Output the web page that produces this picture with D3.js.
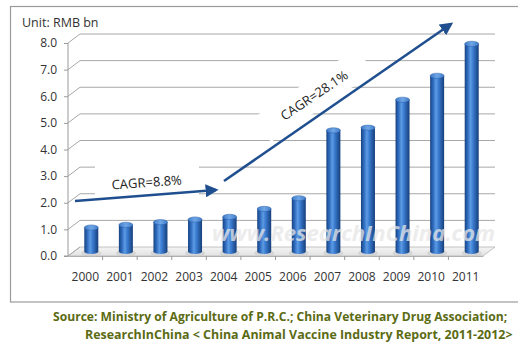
<!DOCTYPE html>
<html>
<head>
<meta charset="utf-8">
<script src="https://cdn.jsdelivr.net/npm/d3@7"></script>
<style>
  html, body { margin: 0; padding: 0; background: #fff; }
  svg { display: block; }
</style>
</head>
<body>
<svg id="chart" width="518" height="343"></svg>
<script>
// Animal vaccine market size in China, RMB bn
const years = ["2000","2001","2002","2003","2004","2005","2006","2007","2008","2009","2010","2011"];
const values = [0.9, 1.0, 1.1, 1.2, 1.3, 1.6, 2.0, 4.55, 4.65, 5.7, 6.6, 7.8];
const yTicks = [0, 1, 2, 3, 4, 5, 6, 7, 8];
const unitLabel = "Unit: RMB bn";
const growthLabels = ["CAGR=8.8%", "CAGR=28.1%"];
const sourceLines = [
  "Source: Ministry of Agriculture of P.R.C.;  China Veterinary Drug Association;",
  "ResearchInChina < China Animal Vaccine Industry Report, 2011-2012>"
];
const watermark = "www.ResearchInChina.com";

const svg = d3.select("#chart");
const font = "'Open Sans', 'DejaVu Sans', sans-serif";

// 3D depth offset of the back wall relative to the front plane
const DX = 12, DY = -9;

const x = d3.scaleBand().domain(years).range([68, 483]);
const y = d3.scaleLinear().domain([0, 8]).range([256, 43]);

const defs = svg.append("defs");
const barGrad = defs.append("linearGradient").attr("id", "barGrad")
  .attr("x1", "0%").attr("x2", "100%").attr("y1", "0%").attr("y2", "0%");
[["0%", "#17427f"], ["22%", "#2f6cc0"], ["42%", "#5d9be3"], ["60%", "#3a7bd0"], ["100%", "#163f7a"]]
  .forEach(([o, c]) => barGrad.append("stop").attr("offset", o).attr("stop-color", c));
const topGrad = defs.append("linearGradient").attr("id", "topGrad")
  .attr("x1", "0%").attr("x2", "100%");
[["0%", "#3f7cc9"], ["50%", "#6fa6e6"], ["100%", "#3f7cc9"]]
  .forEach(([o, c]) => topGrad.append("stop").attr("offset", o).attr("stop-color", c));
const floorGrad = defs.append("linearGradient").attr("id", "floorGrad")
  .attr("x1", "0%").attr("x2", "0%").attr("y1", "0%").attr("y2", "100%");
[["0%", "#f4f4f4"], ["100%", "#e2e2e2"]]
  .forEach(([o, c]) => floorGrad.append("stop").attr("offset", o).attr("stop-color", c));
defs.append("marker").attr("id", "head")
  .attr("viewBox", "0 0 10 10").attr("refX", 8).attr("refY", 5)
  .attr("markerWidth", 5).attr("markerHeight", 5).attr("orient", "auto")
  .attr("markerUnits", "strokeWidth")
  .append("path").attr("d", "M0,0 L10,5 L0,10 Z").attr("fill", "#1f4f8f");

// outer frame
svg.append("rect").attr("x", 10.5).attr("y", 6.5).attr("width", 520).attr("height", 295.5)
  .attr("fill", "#fff").attr("stroke", "#9c9c9c").attr("stroke-width", 1.2);

svg.append("text").attr("x", 22).attr("y", 27).text(unitLabel)
  .attr("font-family", font).attr("font-size", 12.5).attr("fill", "#333");

const x0 = x.range()[0], x1 = x.range()[1];

// floor
svg.append("path")
  .attr("d", `M${x0},${y(0)} L${x1},${y(0)} L${x1 + DX},${y(0) + DY} L${x0 + DX},${y(0) + DY} Z`)
  .attr("fill", "url(#floorGrad)").attr("stroke", "#b5b5b5").attr("stroke-width", 0.8);

// gridlines: slanted side segment + back wall line
const grid = svg.append("g").attr("fill", "none").attr("stroke", "#a8a8a8").attr("stroke-width", 1);
yTicks.forEach(t => {
  const yy = y(t);
  grid.append("path").attr("d", `M${x0},${yy} L${x0 + DX},${yy + DY}`);
  if (t > 0) grid.append("path").attr("d", `M${x0 + DX},${yy + DY} L${x1 + DX},${yy + DY}`);
});

// y axis
const yAxis = d3.axisLeft(y).tickValues(yTicks).tickFormat(d3.format(".1f")).tickSize(4).tickPadding(7);
const gy = svg.append("g").attr("transform", `translate(${x0},0)`).call(yAxis);
gy.select(".domain").attr("stroke", "#9a9a9a").attr("d", `M-4,${y(0)}H0V${y(8)}`);
gy.selectAll(".tick line").attr("stroke", "#9a9a9a");
gy.selectAll(".tick text").attr("font-family", font).attr("font-size", 12).attr("fill", "#333");

// x axis along the floor front edge
const xAxis = d3.axisBottom(x).tickSize(0).tickPadding(16);
const gx = svg.append("g").attr("transform", `translate(0,${y(0)})`).call(xAxis);
gx.select(".domain").attr("stroke", "#b0b0b0");
gx.selectAll(".tick text").attr("font-family", font).attr("font-size", 12).attr("fill", "#333");
svg.append("g").selectAll("line").data(years.slice(1)).join("line")
  .attr("x1", d => x(d)).attr("x2", d => x(d))
  .attr("y1", y(0)).attr("y2", y(0) + 4)
  .attr("stroke", "#9a9a9a");

// cylinders
const bw = 14, ry = 2.6;
const bars = svg.append("g").selectAll("g").data(years.map((yr, i) => ({ yr, v: values[i] }))).join("g");
const cx = d => x(d.yr) + x.bandwidth() / 2 + DX / 2;
const baseY = y(0) + DY / 2;
const topY = d => y(d.v) + DY / 2;
bars.append("ellipse").attr("cx", cx).attr("cy", baseY + 1.5).attr("rx", bw / 2 + 3).attr("ry", ry + 1)
  .attr("fill", "#c8c8c8").attr("opacity", 0.6);
bars.append("path")
  .attr("d", d => {
    const l = cx(d) - bw / 2, r = cx(d) + bw / 2;
    return `M${l},${topY(d)} L${l},${baseY} A${bw / 2},${ry} 0 0 0 ${r},${baseY} L${r},${topY(d)} Z`;
  })
  .attr("fill", "url(#barGrad)");
bars.append("ellipse").attr("cx", cx).attr("cy", topY).attr("rx", bw / 2).attr("ry", ry)
  .attr("fill", "url(#topGrad)").attr("stroke", "#2a5ea6").attr("stroke-width", 0.5);

// watermark
svg.append("text").attr("x", 212).attr("y", 241).text(watermark)
  .attr("font-family", font).attr("font-size", 21).attr("font-style", "italic").attr("font-weight", "bold")
  .attr("textLength", 283).attr("lengthAdjust", "spacingAndGlyphs")
  .attr("fill", "#e6e6e6").attr("opacity", 0.75);

// growth annotations
svg.append("rect").attr("x", 95).attr("y", 163).attr("width", 104).attr("height", 33).attr("fill", "#fff");
svg.append("text").attr("transform", "translate(147,187) rotate(-4)").attr("text-anchor", "middle")
  .text(growthLabels[0]).attr("font-family", font).attr("font-size", 13).attr("fill", "#222");
svg.append("line").attr("x1", 75).attr("y1", 201).attr("x2", 216).attr("y2", 190)
  .attr("stroke", "#1f4f8f").attr("stroke-width", 2.6).attr("marker-end", "url(#head)");

svg.append("g").attr("transform", "translate(314,95) rotate(-34)")
  .call(g => {
    g.append("rect").attr("x", -62).attr("y", -15).attr("width", 124).attr("height", 30).attr("fill", "#fff");
    g.append("text").attr("y", 5).attr("text-anchor", "middle").text(growthLabels[1])
      .attr("font-family", font).attr("font-size", 13).attr("fill", "#222");
  });
svg.append("line").attr("x1", 224).attr("y1", 181).attr("x2", 451).attr("y2", 24)
  .attr("stroke", "#1f4f8f").attr("stroke-width", 2.6).attr("marker-end", "url(#head)");

// source note: condensed horizontally to fit its span
const srcSpec = [
  { text: sourceLines[0], x: 53, y: 321, width: 455 },
  { text: sourceLines[1], x: 85, y: 339, width: 428 }
];
srcSpec.forEach(s => {
  const g = svg.append("g");
  const t = g.append("text").text(s.text)
    .attr("font-family", font).attr("font-weight", "bold")
    .attr("font-size", 12.5).attr("fill", "#5b6b14");
  const natural = t.node().getComputedTextLength();
  g.attr("transform", `translate(${s.x},${s.y}) scale(${s.width / natural},1)`);
});
</script>
</body>
</html>
